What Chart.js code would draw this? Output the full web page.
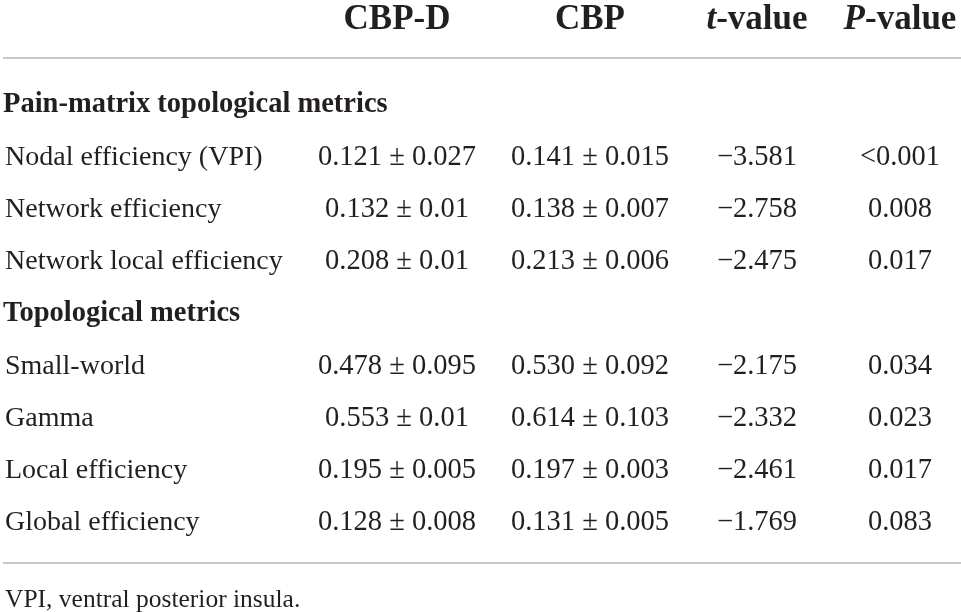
<!DOCTYPE html>
<html>
<head>
<meta charset="utf-8">
<script src="https://cdn.jsdelivr.net/npm/chart.js@4.4.1/dist/chart.umd.min.js"></script>
<style>
  html, body { margin: 0; padding: 0; background: #fff; }
  canvas { display: block; }
</style>
</head>
<body>
<canvas id="tableChart" width="961" height="612"></canvas>
<script>
// Données du tableau
const columns = ['CBP-D', 'CBP', 't-value', 'P-value'];
const rowLabels = [
  'Pain-matrix topological metrics',
  'Nodal efficiency (VPI)',
  'Network efficiency',
  'Network local efficiency',
  'Topological metrics',
  'Small-world',
  'Gamma',
  'Local efficiency',
  'Global efficiency'
];
const isSection = [true, false, false, false, true, false, false, false, false];
const cbpD = ['', '0.121 ± 0.027', '0.132 ± 0.01', '0.208 ± 0.01', '', '0.478 ± 0.095', '0.553 ± 0.01', '0.195 ± 0.005', '0.128 ± 0.008'];
const cbp = ['', '0.141 ± 0.015', '0.138 ± 0.007', '0.213 ± 0.006', '', '0.530 ± 0.092', '0.614 ± 0.103', '0.197 ± 0.003', '0.131 ± 0.005'];
const tValues = [null, -3.581, -2.758, -2.475, null, -2.175, -2.332, -2.461, -1.769];
const pValues = ['', '<0.001', '0.008', '0.017', '', '0.034', '0.023', '0.017', '0.083'];
const footnote = 'VPI, ventral posterior insula.';

// Mise en page (centres des colonnes, en pixels de l'axe x)
const colX = [397, 590, 757, 900];
const textColor = '#231f20';
const ruleColor = '#b5b5b5';
const fontFamily = '"Liberation Serif", "DejaVu Serif", serif';
const bodySize = 28.5;
const labelSize = 28;
const headSize = 35;

const tText = tValues.map(v => v === null ? '' : v.toFixed(3).replace('-', '\u2212'));
const cells = [cbpD, cbp, tText, pValues];

const datasets = cells.map((col, c) => ({
  label: columns[c],
  data: col.map((txt, i) => ({ x: colX[c], y: rowLabels[i], text: txt })).filter(d => d.text !== ''),
  pointRadius: 0,
  pointHoverRadius: 0
}));

// Dessine un texte composé de morceaux (gras / italique) centré
function drawPieces(ctx, pieces, cx, y) {
  let total = 0;
  pieces.forEach(p => { ctx.font = p.font; p.w = ctx.measureText(p.text).width; total += p.w; });
  let x = cx - total / 2;
  pieces.forEach(p => { ctx.font = p.font; ctx.fillText(p.text, x, y); x += p.w; });
}

const tablePlugin = {
  id: 'tableText',
  afterDatasetsDraw(chart) {
    const { ctx, chartArea, scales } = chart;
    const yScale = scales.y;
    const bold = `bold ${bodySize}px ${fontFamily}`;
    const regular = `${bodySize}px ${fontFamily}`;
    const labelFont = `${labelSize}px ${fontFamily}`;
    const headBold = `bold ${headSize}px ${fontFamily}`;
    const headBoldItalic = `italic bold ${headSize}px ${fontFamily}`;
    ctx.save();
    ctx.fillStyle = textColor;
    ctx.textBaseline = 'middle';

    // En-tête
    const headY = chartArea.top - 59;
    ctx.textAlign = 'left';
    drawPieces(ctx, [{ text: columns[0], font: headBold }], colX[0], headY);
    drawPieces(ctx, [{ text: columns[1], font: headBold }], colX[1], headY);
    drawPieces(ctx, [{ text: 't', font: headBoldItalic }, { text: '-value', font: headBold }], colX[2], headY);
    drawPieces(ctx, [{ text: 'P', font: headBoldItalic }, { text: '-value', font: headBold }], colX[3], headY);

    // Filets
    ctx.strokeStyle = ruleColor;
    ctx.lineWidth = 1.5;
    ctx.beginPath();
    ctx.moveTo(3, chartArea.top - 21);
    ctx.lineTo(chart.width, chartArea.top - 21);
    ctx.moveTo(3, chartArea.bottom + 14);
    ctx.lineTo(chart.width, chartArea.bottom + 14);
    ctx.stroke();

    // Libellés des lignes
    rowLabels.forEach((lab, i) => {
      ctx.font = isSection[i] ? bold : labelFont;
      ctx.fillText(lab, isSection[i] ? 3 : 5, yScale.getPixelForValue(i));
    });

    // Cellules
    ctx.textAlign = 'center';
    ctx.font = regular;
    chart.data.datasets.forEach((ds, d) => {
      const meta = chart.getDatasetMeta(d);
      meta.data.forEach((el, j) => {
        ctx.fillText(ds.data[j].text, el.x, el.y);
      });
    });

    // Note
    ctx.textAlign = 'left';
    ctx.font = `25.5px ${fontFamily}`;
    ctx.fillText(footnote, 5, chartArea.bottom + 51);
    ctx.restore();
  }
};

const ctx = document.getElementById('tableChart').getContext('2d');
const tableChart = new Chart(ctx, {
  type: 'scatter',
  data: { datasets: datasets },
  options: {
    responsive: false,
    animation: false,
    layout: { padding: { top: 79, bottom: 63, left: 0, right: 0 } },
    plugins: { legend: { display: false }, tooltip: { enabled: false } },
    scales: {
      x: { type: 'linear', min: 0, max: 961, display: false },
      y: { type: 'category', labels: rowLabels, offset: true, display: false, grid: { display: false } }
    }
  },
  plugins: [tablePlugin]
});
</script>
</body>
</html>
